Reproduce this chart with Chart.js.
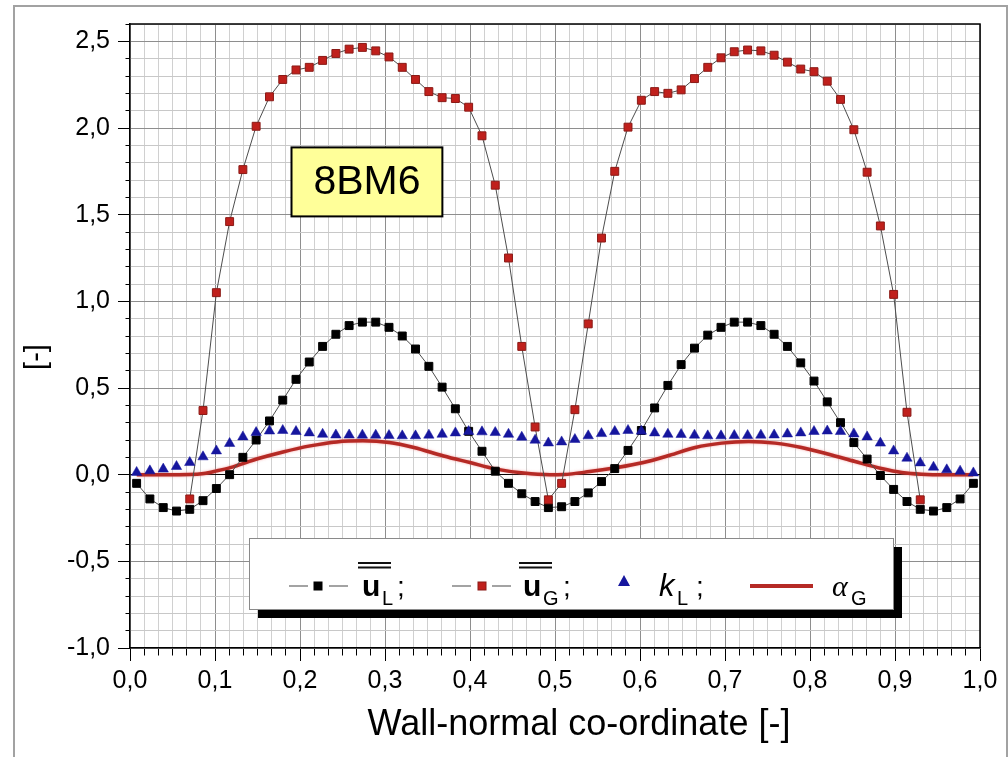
<!DOCTYPE html>
<html>
<head>
<meta charset="utf-8">
<script src="https://cdn.jsdelivr.net/npm/chart.js@4.4.1/dist/chart.umd.min.js"></script>
<style>
html,body{margin:0;padding:0;background:#fff;}
#c{display:block;}
</style>
</head>
<body>
<canvas id="c" width="1008" height="757"></canvas>
<script>
// ---------------- data ----------------
const xPos = [0.0078,0.0234,0.0391,0.0547,0.0703,0.0859,0.1016,0.1172,0.1328,0.1484,
  0.1641,0.1797,0.1953,0.2109,0.2266,0.2422,0.2578,0.2734,0.2891,0.3047,
  0.3203,0.3359,0.3516,0.3672,0.3828,0.3984,0.4141,0.4297,0.4453,0.4609,
  0.4766,0.4922,0.5078,0.5234,0.5391,0.5547,0.5703,0.5859,0.6016,0.6172,
  0.6328,0.6484,0.6641,0.6797,0.6953,0.7109,0.7266,0.7422,0.7578,0.7734,
  0.7891,0.8047,0.8203,0.8359,0.8516,0.8672,0.8828,0.8984,0.9141,0.9297,
  0.9453,0.9609,0.9766,0.9922];

const uL = [-0.05,-0.14,-0.19,-0.21,-0.20,-0.15,-0.08,0.00,0.10,0.20,
  0.31,0.43,0.55,0.65,0.74,0.81,0.86,0.88,0.88,0.85,
  0.80,0.725,0.625,0.505,0.38,0.25,0.135,0.02,-0.05,-0.11,
  -0.155,-0.19,-0.185,-0.155,-0.105,-0.04,0.035,0.14,0.255,0.385,
  0.515,0.635,0.73,0.805,0.85,0.88,0.88,0.86,0.81,0.74,
  0.645,0.54,0.42,0.30,0.185,0.09,-0.005,-0.085,-0.155,-0.20,
  -0.21,-0.19,-0.14,-0.05];

const uG = [null,null,null,null,-0.14,0.37,1.05,1.46,1.76,2.01,
  2.18,2.28,2.335,2.35,2.39,2.43,2.455,2.465,2.445,2.41,
  2.35,2.28,2.21,2.175,2.17,2.12,1.955,1.67,1.25,0.74,
  0.275,-0.145,-0.05,0.375,0.87,1.365,1.75,2.005,2.16,2.21,
  2.20,2.22,2.285,2.35,2.405,2.44,2.45,2.445,2.42,2.38,
  2.34,2.325,2.27,2.165,1.99,1.745,1.435,1.04,0.36,-0.145,
  null,null,null,null];

const kL = [0.013,0.022,0.032,0.047,0.070,0.103,0.137,0.180,0.218,0.243,
  0.252,0.255,0.249,0.241,0.233,0.229,0.229,0.228,0.228,0.226,
  0.224,0.224,0.228,0.233,0.241,0.249,0.247,0.243,0.233,0.216,
  0.199,0.183,0.189,0.203,0.224,0.237,0.249,0.255,0.251,0.241,
  0.233,0.232,0.228,0.224,0.224,0.226,0.226,0.228,0.229,0.235,
  0.241,0.249,0.252,0.249,0.235,0.218,0.182,0.137,0.095,0.068,
  0.043,0.028,0.020,0.010];

const alphaX = [0.008,0.04,0.07,0.087,0.102,0.118,0.151,0.180,0.212,0.243,
  0.274,0.305,0.334,0.369,0.400,0.431,0.463,0.494,0.510,0.541,
  0.573,0.604,0.635,0.665,0.696,0.728,0.759,0.790,0.822,0.853,
  0.884,0.908,0.931,0.962,0.992];
const alphaG = [0.0,0.0,0.001,0.007,0.022,0.041,0.093,0.131,0.166,0.189,
  0.195,0.186,0.157,0.108,0.070,0.032,0.009,0.0,0.001,0.018,
  0.041,0.070,0.112,0.157,0.182,0.191,0.182,0.157,0.118,0.076,
  0.036,0.013,0.003,0.0,0.0];

// tick labels (major ticks) and minor subdivisions
const xMajorTicks = [0.0,0.1,0.2,0.3,0.4,0.5,0.6,0.7,0.8,0.9,1.0];
const yMajorTicks = [-1.0,-0.5,0.0,0.5,1.0,1.5,2.0,2.5];
const X_MIN = 0, X_MAX = 1, Y_MIN = -1.0, Y_MAX = 2.6;
const X_MINOR_DIV = 6, Y_MINOR_DIV = 5;

const axisTitleX = 'Wall-normal co-ordinate [-]';
const axisTitleY = '[-]';
const boxLabel = '8BM6';

const FONT = '"Liberation Sans", Arial, Helvetica, sans-serif';

// ---------------- helpers ----------------
function toPoints(xs, ys) { return xs.map((x, i) => ({ x: x, y: ys[i] })); }
function buildTicks(majors, div, max) {
  const out = [];
  const step = (majors[1] - majors[0]) / div;
  for (let i = 0; i < majors.length; i++) {
    out.push({ value: majors[i], isMajor: true });
    for (let k = 1; k < div; k++) {
      const v = +(majors[i] + k * step).toFixed(6);
      if (v <= max + 1e-9) out.push({ value: v, isMajor: false });
    }
  }
  return out.filter(t => t.value <= max + 1e-9);
}
const fmt = v => v.toFixed(1).replace('.', ',');

// ---------------- plugin (frame, plot box, titles, annotation, legend) ----------------
const decor = {
  id: 'decor',
  beforeDraw(chart) {
    const c = chart.ctx;
    c.save();
    c.fillStyle = '#fff';
    c.fillRect(0, 0, chart.width, chart.height);
    c.strokeStyle = '#a2a2a2';
    c.lineWidth = 2;
    c.beginPath();
    c.moveTo(14, 757); c.lineTo(14, 6); c.lineTo(1007, 6); c.lineTo(1007, 757);
    c.stroke();
    c.restore();
  },
  beforeDatasetDraw(chart, args) {
    const c = chart.ctx;
    c.save();
    if (chart.data.datasets[args.index].glow) {
      c.shadowColor = 'rgba(240,120,120,0.7)';
      c.shadowBlur = 2.5;
    }
  },
  afterDatasetDraw(chart) { chart.ctx.restore(); },
  afterDraw(chart) {
    const c = chart.ctx;
    const a = chart.chartArea;
    const xs = chart.scales.x, ys = chart.scales.y;
    c.save();
    // plot frame top/right
    c.strokeStyle = '#000';
    c.lineWidth = 1.5;
    c.beginPath();
    c.moveTo(a.left, a.top); c.lineTo(a.right, a.top); c.lineTo(a.right, a.bottom);
    c.stroke();

    // annotation box "8BM6"
    const bx1 = xs.getPixelForValue(0.19), bx2 = xs.getPixelForValue(0.3675);
    const by1 = ys.getPixelForValue(1.888), by2 = ys.getPixelForValue(1.49);
    c.fillStyle = '#ffff99';
    c.fillRect(bx1, by1, bx2 - bx1, by2 - by1);
    c.strokeStyle = '#000';
    c.lineWidth = 2;
    c.strokeRect(bx1, by1, bx2 - bx1, by2 - by1);
    c.fillStyle = '#000';
    c.font = '41px ' + FONT;
    c.textAlign = 'center';
    c.textBaseline = 'middle';
    c.fillText(boxLabel, (bx1 + bx2) / 2, (by1 + by2) / 2 + 1);

    // axis titles
    c.font = '36px ' + FONT;
    c.fillText(axisTitleX, 579, 725);
    c.save();
    c.translate(37, 357);
    c.rotate(-Math.PI / 2);
    c.font = '29px ' + FONT;
    c.fillText(axisTitleY, 0, 0);
    c.restore();

    // legend
    c.fillStyle = '#000';
    c.fillRect(258, 547, 644, 71);
    c.fillStyle = '#fff';
    c.fillRect(249, 538, 644, 71);
    c.strokeStyle = '#8a8a8a';
    c.lineWidth = 1;
    c.strokeRect(249.5, 538.5, 644, 71);

    const ly = 586, base = 596, subBase = 605;
    const seg = (x1, x2) => { c.strokeStyle = '#666'; c.lineWidth = 1.2; c.beginPath(); c.moveTo(x1, ly); c.lineTo(x2, ly); c.stroke(); };
    const sq = (x, fill, stroke) => { c.fillStyle = fill; c.fillRect(x - 4, ly - 4, 8, 8); c.strokeStyle = stroke; c.lineWidth = 1; c.strokeRect(x - 4, ly - 4, 8, 8); };
    const dbl = (x1, x2) => { c.fillStyle = '#111'; c.fillRect(x1, 562, x2 - x1, 2); c.fillRect(x1, 566.5, x2 - x1, 2); };
    const txt = (s, x, y, f) => { c.fillStyle = '#000'; c.font = f; c.textAlign = 'left'; c.textBaseline = 'alphabetic'; c.fillText(s, x, y); };

    // item 1: u_L
    seg(289, 308); seg(329, 348); sq(318, '#000', '#000');
    dbl(358, 391);
    txt('u', 362, base, 'bold 30px ' + FONT);
    txt('L', 382, subBase, '20px ' + FONT);
    txt(';', 397, base, '28px ' + FONT);
    // item 2: u_G
    seg(452, 471); seg(492, 511); sq(482, '#c0201c', '#8a1a16');
    dbl(519, 552);
    txt('u', 523, base, 'bold 30px ' + FONT);
    txt('G', 543, subBase, '20px ' + FONT);
    txt(';', 563, base, '28px ' + FONT);
    // item 3: k_L
    c.fillStyle = '#16169e';
    c.beginPath();
    c.moveTo(624, 575); c.lineTo(630, 586); c.lineTo(618, 586); c.closePath(); c.fill();
    txt('k', 659, base, 'italic 31px ' + FONT);
    txt('L', 677, subBase, '20px ' + FONT);
    txt(';', 696, base, '28px ' + FONT);
    // item 4: alpha_G
    c.strokeStyle = '#b52a25'; c.lineWidth = 4;
    c.beginPath(); c.moveTo(750, ly); c.lineTo(813, ly); c.stroke();
    txt('\u03B1', 832, base, 'italic 30px "Liberation Serif", "DejaVu Serif", serif');
    txt('G', 851, subBase, '20px ' + FONT);
    c.restore();
  }
};

// ---------------- chart ----------------
new Chart(document.getElementById('c'), {
  type: 'scatter',
  data: {
    datasets: [
      {
        label: 'kL', data: toPoints(xPos, kL), showLine: false,
        pointStyle: 'triangle', pointRadius: 6, pointHoverRadius: 6,
        backgroundColor: '#16169e', borderColor: '#16169e', borderWidth: 0.5
      },
      {
        label: 'uG', data: toPoints(xPos, uG), showLine: true,
        borderColor: '#4d4d4d', borderWidth: 1, tension: 0,
        pointStyle: 'rect', pointRadius: 5.6, pointHoverRadius: 5.6,
        pointBackgroundColor: '#c0201c', pointBorderColor: '#8a1a16', pointBorderWidth: 1
      },
      {
        label: 'uL', data: toPoints(xPos, uL), showLine: true,
        borderColor: '#4d4d4d', borderWidth: 1, tension: 0,
        pointStyle: 'rect', pointRadius: 5.6, pointHoverRadius: 5.6,
        pointBackgroundColor: '#000', pointBorderColor: '#000', pointBorderWidth: 1
      },
      {
        label: 'alphaG', data: toPoints(alphaX, alphaG), showLine: true, glow: true,
        borderColor: '#b52a25', borderWidth: 3.5, pointRadius: 0, pointHoverRadius: 0,
        cubicInterpolationMode: 'monotone'
      }
    ]
  },
  options: {
    responsive: false,
    animation: false,
    events: [],
    layout: { padding: { top: 24, right: 28, left: 0, bottom: 0 } },
    plugins: { legend: { display: false }, tooltip: { enabled: false } },
    scales: {
      x: {
        type: 'linear', min: X_MIN, max: X_MAX,
        afterBuildTicks: s => { s.ticks = buildTicks(xMajorTicks, X_MINOR_DIV, X_MAX); },
        afterFit: s => { s.height = 109; },
        ticks: {
          autoSkip: false, maxRotation: 0, padding: 5, color: '#000',
          font: { family: FONT, size: 25 },
          callback: function (v, i, ticks) { return ticks[i].isMajor ? fmt(v) : ''; }
        },
        grid: {
          color: ctx => (ctx.tick && ctx.tick.isMajor) ? '#8e8e8e' : '#d0d0d0',
          lineWidth: 1, tickLength: 13, tickColor: '#000', tickWidth: 1,
          tickBorderDash: ctx => (ctx.tick && ctx.tick.isMajor) ? [] : [7, 60]
        },
        border: { display: true, color: '#000', width: 1.5 },
        title: { display: false }
      },
      y: {
        type: 'linear', min: Y_MIN, max: Y_MAX,
        afterBuildTicks: s => { s.ticks = buildTicks(yMajorTicks, Y_MINOR_DIV, Y_MAX); },
        afterFit: s => { s.width = 130; },
        ticks: {
          autoSkip: false, padding: 8, color: '#000',
          font: { family: FONT, size: 25 },
          callback: function (v, i, ticks) { return ticks[i].isMajor ? fmt(v) : ''; }
        },
        grid: {
          color: ctx => {
            if (!ctx.tick) return '#c8c8c8';
            if (Math.abs(ctx.tick.value) < 1e-9) return '#000';
            return ctx.tick.isMajor ? '#8e8e8e' : '#c8c8c8';
          },
          lineWidth: 1, tickLength: 12, tickColor: '#000', tickWidth: 1,
          tickBorderDash: ctx => (ctx.tick && ctx.tick.isMajor) ? [] : [0, 7.5, 4, 60]
        },
        border: { display: true, color: '#000', width: 1.5 },
        title: { display: false }
      }
    }
  },
  plugins: [decor]
});
</script>
</body>
</html>
